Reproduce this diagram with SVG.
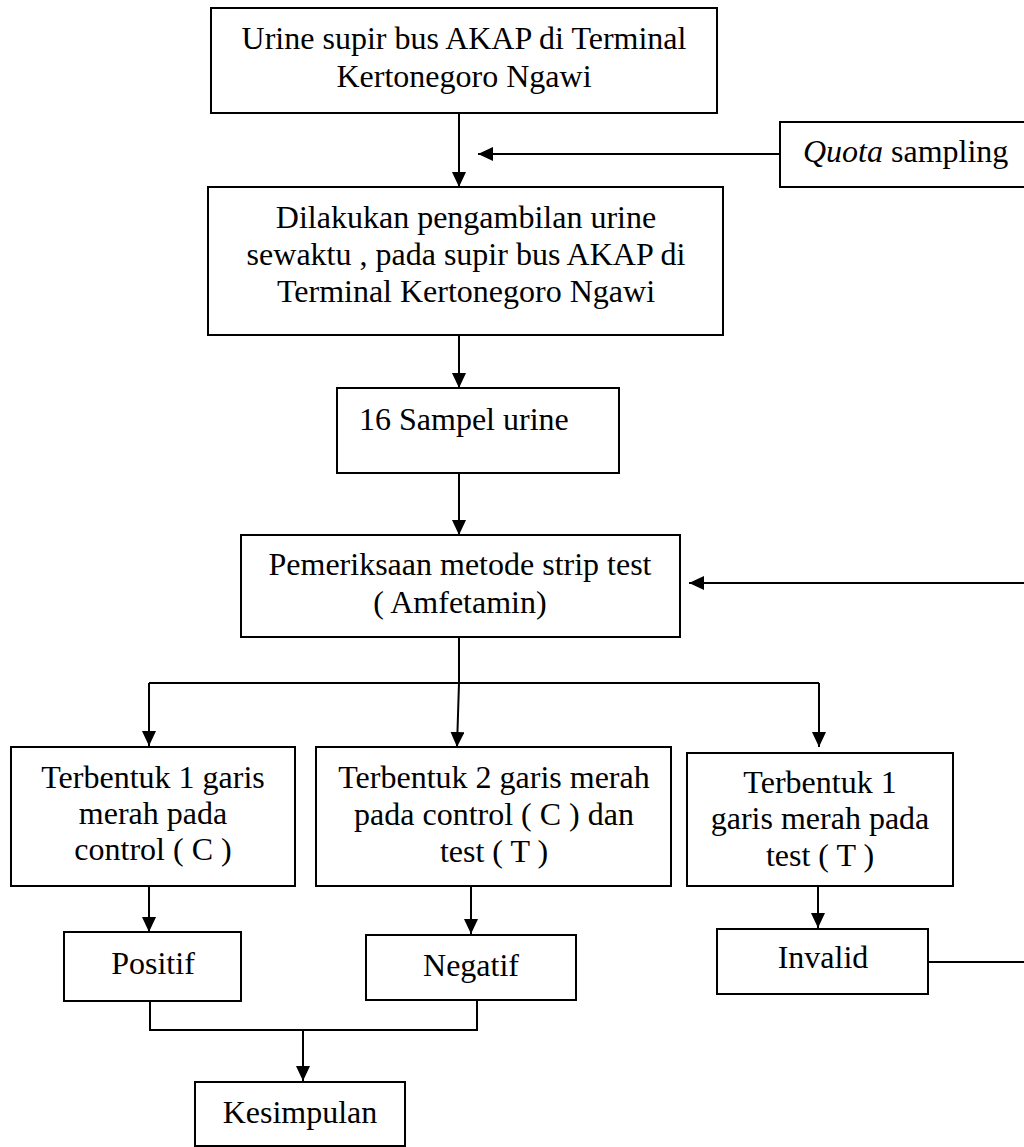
<svg xmlns="http://www.w3.org/2000/svg" width="1024" height="1147" viewBox="0 0 1024 1147">
<style>
.box{fill:#fff;stroke:#000;stroke-width:2}
.t{font-family:"Liberation Serif","Times New Roman",serif;font-size:32px;fill:#000}
.c{text-anchor:middle}
.ln{fill:none;stroke:#000;stroke-width:2}
</style>
<defs>
<marker id="ah" viewBox="0 0 15 14" refX="15" refY="7" markerWidth="15" markerHeight="14" markerUnits="userSpaceOnUse" orient="auto">
<path d="M0,0 L15,7 L0,14 Z" fill="#000"/>
</marker>
</defs>
<rect width="1024" height="1147" fill="#fff"/>
<g id="connectors">
<path class="ln" d="M459,113 V187" marker-end="url(#ah)"/>
<path class="ln" d="M780,154 H478" marker-end="url(#ah)"/>
<path class="ln" d="M459,335 V388" marker-end="url(#ah)"/>
<path class="ln" d="M459,473 V535" marker-end="url(#ah)"/>
<path class="ln" d="M1030,583 H689" marker-end="url(#ah)"/>
<path class="ln" d="M459,637 V683 L457,747" marker-end="url(#ah)"/>
<path class="ln" d="M149,683 H819"/>
<path class="ln" d="M149,683 V746" marker-end="url(#ah)"/>
<path class="ln" d="M819,683 V747" marker-end="url(#ah)"/>
<path class="ln" d="M149,886 V932" marker-end="url(#ah)"/>
<path class="ln" d="M471,886 V934" marker-end="url(#ah)"/>
<path class="ln" d="M818,886 V928" marker-end="url(#ah)"/>
<path class="ln" d="M928,962 H1030"/>
<path class="ln" d="M150,1001 V1030 H477 V1000"/>
<path class="ln" d="M303,1030 V1081" marker-end="url(#ah)"/>
</g>
<g id="n1">
<rect class="box" x="211" y="8" width="506" height="105"/>
<text class="t c" x="464" y="49">Urine supir bus AKAP di Terminal</text>
<text class="t c" x="464" y="87">Kertonegoro Ngawi</text>
</g>
<g id="quota">
<rect class="box" x="780" y="122" width="260" height="65"/>
<text class="t" x="803" y="162"><tspan font-style="italic">Quota</tspan> sampling</text>
</g>
<g id="n2">
<rect class="box" x="208" y="187" width="515" height="148"/>
<text class="t c" x="466" y="228">Dilakukan pengambilan urine</text>
<text class="t c" x="466" y="265">sewaktu , pada supir bus AKAP di</text>
<text class="t c" x="466" y="302">Terminal Kertonegoro Ngawi</text>
</g>
<g id="n3">
<rect class="box" x="337" y="388" width="282" height="85"/>
<text class="t" x="359" y="430">16 Sampel urine</text>
</g>
<g id="n4">
<rect class="box" x="241" y="535" width="439" height="102"/>
<text class="t c" x="460" y="575">Pemeriksaan metode strip test</text>
<text class="t c" x="460" y="613">( Amfetamin)</text>
</g>
<g id="n5">
<rect class="box" x="11" y="747" width="284" height="139"/>
<text class="t c" x="153" y="788">Terbentuk 1 garis</text>
<text class="t c" x="153" y="824">merah pada</text>
<text class="t c" x="153" y="860">control ( C )</text>
</g>
<g id="n6">
<rect class="box" x="316" y="747" width="355" height="139"/>
<text class="t c" x="494" y="788">Terbentuk 2 garis merah</text>
<text class="t c" x="494" y="825">pada control ( C ) dan</text>
<text class="t c" x="494" y="862">test ( T )</text>
</g>
<g id="n7">
<rect class="box" x="687" y="753" width="266" height="133"/>
<text class="t c" x="820" y="793">Terbentuk 1</text>
<text class="t c" x="820" y="829">garis merah pada</text>
<text class="t c" x="820" y="866">test ( T )</text>
</g>
<g id="positif">
<rect class="box" x="64" y="932" width="177" height="69"/>
<text class="t c" x="153" y="974">Positif</text>
</g>
<g id="negatif">
<rect class="box" x="366" y="935" width="210" height="65"/>
<text class="t c" x="471" y="976">Negatif</text>
</g>
<g id="invalid">
<rect class="box" x="717" y="929" width="211" height="65"/>
<text class="t c" x="823" y="968">Invalid</text>
</g>
<g id="kesimpulan">
<rect class="box" x="195" y="1082" width="210" height="64"/>
<text class="t c" x="300" y="1123">Kesimpulan</text>
</g>
</svg>
